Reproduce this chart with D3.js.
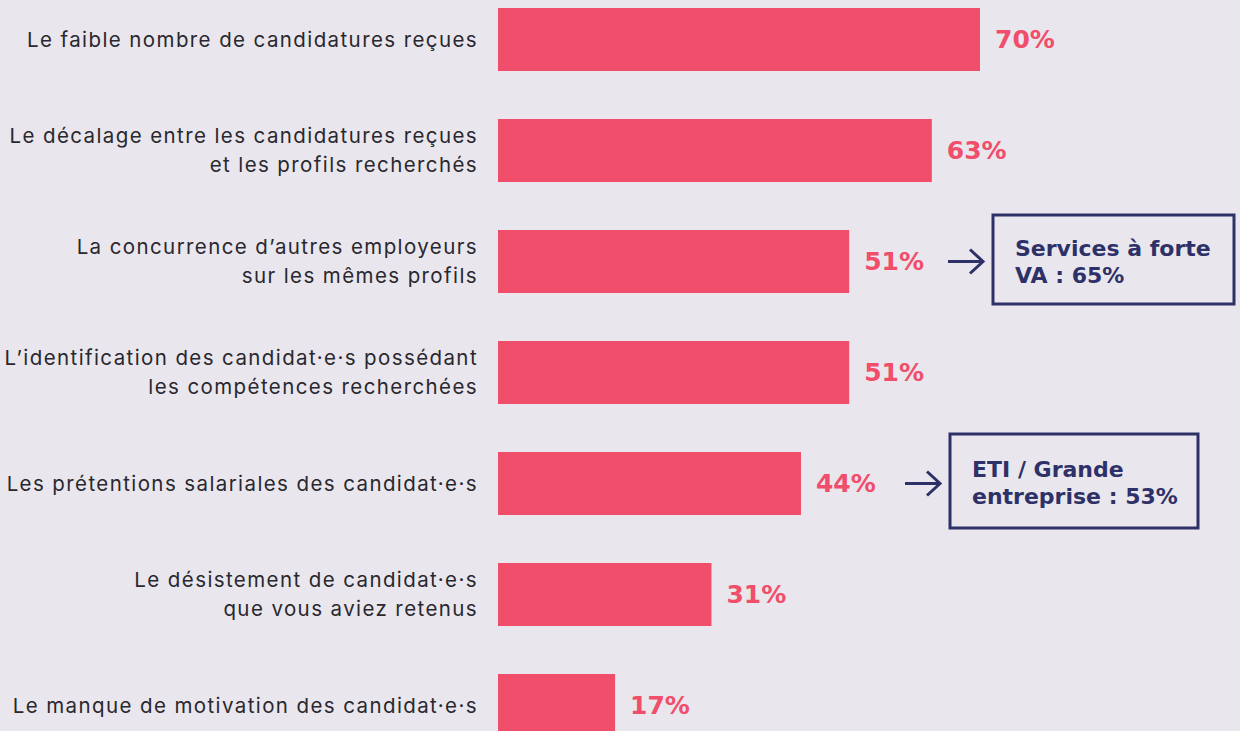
<!DOCTYPE html>
<html>
<head>
<meta charset="utf-8">
<script src="https://cdn.jsdelivr.net/npm/d3@7"></script>
<style>
  html, body { margin: 0; padding: 0; background: #e9e6ed; }
  svg { display: block; }
  .label { font-family: "Inter", sans-serif; font-weight: 400; font-size: 20.5px; letter-spacing: 1.4px; fill: #29282e; }
  .value { font-family: "DejaVu Sans", sans-serif; font-weight: 700; font-size: 25px; fill: #f04e6b; }
  .note { font-family: "DejaVu Sans", sans-serif; font-weight: 700; font-size: 22px; fill: #2e3168; }
</style>
</head>
<body>
<div id="chart"></div>
<script>
var svgWidth = 1240;
var svgHeight = 731;

// data
var categories = [
    ["Le faible nombre de candidatures reçues"],
    ["Le décalage entre les candidatures reçues", "et les profils recherchés"],
    ["La concurrence d’autres employeurs", "sur les mêmes profils"],
    ["L’identification des candidat·e·s possédant", "les compétences recherchées"],
    ["Les prétentions salariales des candidat·e·s"],
    ["Le désistement de candidat·e·s", "que vous aviez retenus"],
    ["Le manque de motivation des candidat·e·s"]
];
var values = [70, 63, 51, 51, 44, 31, 17];

// callouts: index of bar, lines
var noteIndex = [2, 4];
var noteLines = [
    ["Services à forte", "VA : 65%"],
    ["ETI / Grande", "entreprise : 53%"]
];

var svg = d3.select("#chart")
    .append("svg")
    .attr("width", svgWidth)
    .attr("height", svgHeight);

var yScale = d3.scaleBand()
    .domain(d3.range(values.length))
    .range([8, 737])
    .paddingInner(48 / 111)
    .paddingOuter(0);

var xScale = d3.scaleLinear()
    .domain([0, 70])
    .range([498, 980]);

var bw = yScale.bandwidth();

// bars
svg.selectAll(".bar")
    .data(values)
    .enter()
    .append("rect")
    .attr("class", "bar")
    .attr("x", xScale(0))
    .attr("y", (d, i) => yScale(i))
    .attr("width", d => xScale(d) - xScale(0))
    .attr("height", bw)
    .attr("fill", "#f04e6b");

// value labels
svg.selectAll(".value")
    .data(values)
    .enter()
    .append("text")
    .attr("class", "value")
    .attr("x", d => xScale(d) + 15)
    .attr("y", (d, i) => yScale(i) + bw / 2 - 1)
    .attr("dy", "0.36em")
    .text(d => d + "%");

// category labels
var lineH = 29;
categories.forEach(function(lines, i) {
    var cy = yScale(i) + bw / 2;
    var t = svg.append("text")
        .attr("class", "label")
        .attr("text-anchor", "end");
    lines.forEach(function(l, j) {
        t.append("tspan")
            .attr("x", 478)
            .attr("y", cy + (j - (lines.length - 1) / 2) * lineH)
            .attr("dy", "0.36em")
            .text(l);
    });
});

// callouts
var navy = "#2e3168";
var boxes = [
    {x: 993, y: 215, w: 241, h: 89},
    {x: 950, y: 434, w: 248, h: 94}
];
noteIndex.forEach(function(idx, k) {
    var cy = yScale(idx) + bw / 2;
    var b = boxes[k];
    var ax0 = b.x - 45, ax1 = b.x - 10;
    var g = svg.append("g");
    g.append("line")
        .attr("x1", ax0).attr("x2", ax1 - 1)
        .attr("y1", cy).attr("y2", cy)
        .attr("stroke", navy).attr("stroke-width", 3);
    g.append("path")
        .attr("d", `M${ax1 - 13},${cy - 12} L${ax1},${cy} L${ax1 - 13},${cy + 12}`)
        .attr("fill", "none")
        .attr("stroke", navy)
        .attr("stroke-width", 3);
    g.append("rect")
        .attr("x", b.x).attr("y", b.y)
        .attr("width", b.w).attr("height", b.h)
        .attr("fill", "none")
        .attr("stroke", navy)
        .attr("stroke-width", 3);
    var t = g.append("text").attr("class", "note");
    noteLines[k].forEach(function(l, j) {
        t.append("tspan")
            .attr("x", b.x + 22)
            .attr("y", b.y + b.h / 2 + 2 + (j - 0.5) * 27)
            .attr("dy", "0.36em")
            .text(l);
    });
});
</script>
</body>
</html>
